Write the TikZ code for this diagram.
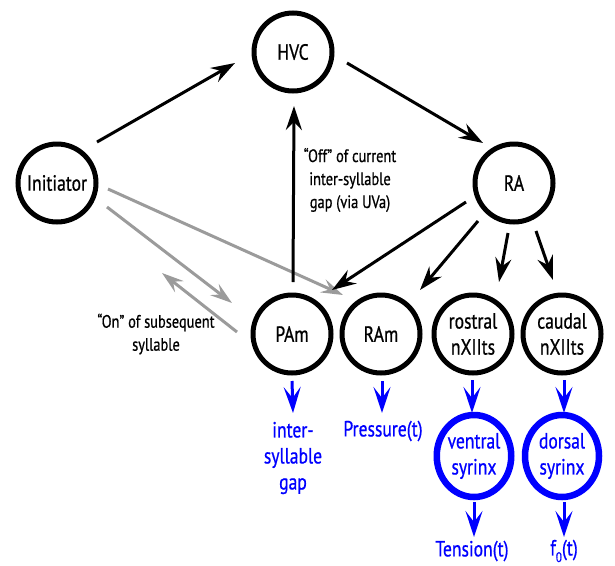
\documentclass[tikz,border=0pt]{standalone}
\usepackage{fontspec}
\setmainfont{PT Sans}[FakeStretch=0.8,FakeBold=0.7]
\usetikzlibrary{arrows.meta,calc,shapes.geometric}
\definecolor{pblue}{RGB}{0,0,255}
\definecolor{pgray}{RGB}{155,155,155}
\begin{document}
\begin{tikzpicture}[x=1pt,y=-1pt,
  nuc/.style={circle,draw=black,line width=5pt,minimum size=78pt,inner sep=0pt,align=center,font=\fontsize{22}{26}\selectfont},
  outp/.style={ellipse,draw=pblue,text=pblue,line width=6.5pt,minimum width=74pt,minimum height=82pt,inner sep=0pt,align=center,font=\fontsize{22}{26}\selectfont},
  lbl/.style={align=center,inner sep=0pt,font=\fontsize{18}{23}\selectfont},
  blbl/.style={align=center,inner sep=0pt,text=pblue,font=\fontsize{22}{26}\selectfont},
  conn/.style={line width=3pt,-{Stealth[length=24pt,width=16pt,inset=8pt]}},
  gconn/.style={line width=3pt,draw=pgray,-{Stealth[length=22pt,width=14pt,inset=8pt]}},
  bconn/.style={line width=3pt,draw=pblue,-{Stealth[length=26pt,width=17pt,inset=11pt]}},
]
\useasboundingbox (0,0) rectangle (615,565);

\node[nuc] (init) at (57,183) {Initiator};
\node[nuc] (hvc) at (293,52) {HVC};
\node[nuc] (ra) at (514,183) {RA};
\node[nuc] (pam) at (292,334) {PAm};
\node[nuc] (ram) at (381,334) {RAm};
\node[nuc] (ros) at (473,334) {rostral\\nXIIts};
\node[nuc] (cau) at (562,334) {caudal\\nXIIts};
\node[outp] (ven) at (474,456) {ventral\\syrinx};
\node[outp] (dor) at (562,456) {dorsal\\syrinx};

\node[blbl] (gap) at (293,458) {inter-\\syllable\\gap};
\node[blbl] (pres) at (383,431) {Pressure(t)};
\node[blbl] (ten) at (472,551) {Tension(t)};
\node[blbl] (fz) at (564,551) {f\raisebox{-0.3em}{\fontsize{14}{14}\selectfont 0}(t)};
\node[lbl] (off) at (350,180) {“Off” of current\\inter-syllable\\gap (via UVa)};
\node[lbl] (on) at (156,334) {“On” of subsequent\\syllable};

\coordinate (g2) at (232,303);
\coordinate (g3) at (162,273);

\draw[gconn] ($(init)+(51,6)$) -- ($(pam)+(51,-39)$);
\draw[gconn] ($(init)+(50,24)$) -- (g2);
\draw[gconn] ($(pam)+(-55,-2)$) -- (g3);

\draw[conn] ($(init)+(40,-41)$) -- ($(hvc)+(-58,11)$);
\draw[conn] ($(hvc)+(54,11)$) -- ($(ra)+(-31,-40)$);
\draw[conn] ($(pam)+(1,-52)$) -- ($(hvc)+(1,54)$);
\draw[conn] ($(ra)+(-48,19)$) -- ($(pam)+(40,-44)$);
\draw[conn] ($(ra)+(-36,38)$) -- ($(ram)+(39,-44)$);
\draw[conn] ($(ra)+(-6,50)$) -- ($(ros)+(26,-52)$);
\draw[conn] ($(ra)+(22,48)$) -- ($(cau)+(-9,-54)$);

\draw[bconn] ($(pam)+(0,47)$) -- ($(gap)+(0,-45)$);
\draw[bconn] ($(ram)+(1,47)$) -- ($(pres)+(-1,-18)$);
\draw[bconn] ($(ros)+(-1,46)$) -- ($(ven)+(-2,-43)$);
\draw[bconn] ($(cau)+(2,46)$) -- ($(dor)+(2,-43)$);
\draw[bconn] ($(ven)+(0,46)$) -- ($(ten)+(2,-14)$);
\draw[bconn] ($(dor)+(2,46)$) -- ($(fz)+(0,-14)$);
\end{tikzpicture}
\end{document}
